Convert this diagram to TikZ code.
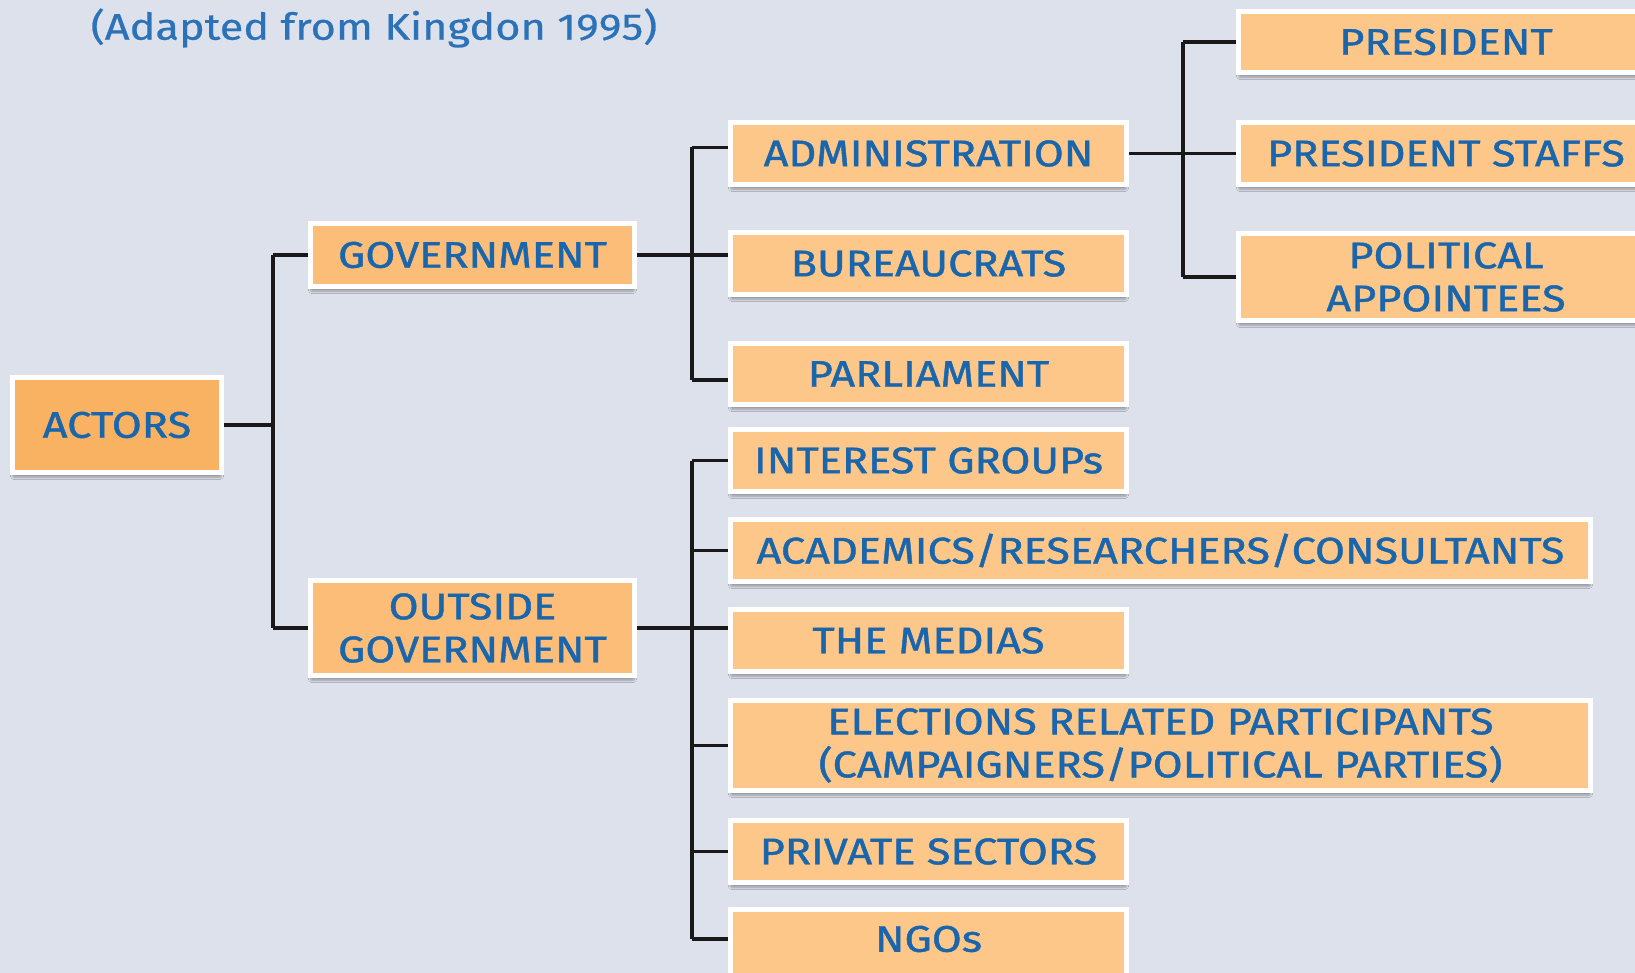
\documentclass[tikz,border=0pt]{standalone}
\usepackage{fontspec}
\setmainfont{Fira Sans}[FakeStretch=1.17, FakeBold=0.6]
\newfontfamily\boxfont{Fira Sans}[FakeBold=1.2, FakeStretch=1.17]
\usetikzlibrary{shadows.blur}
\definecolor{bg}{HTML}{DDE1EB}
\definecolor{txtblue}{HTML}{1A66AD}
\definecolor{titleblue}{HTML}{2C72B8}
\definecolor{fillA}{HTML}{F9B262}
\definecolor{fillB}{HTML}{FBBD78}
\definecolor{fillC}{HTML}{FDC78A}
\tikzset{
  box/.style={draw=white, line width=5pt, fill=fillC, inner sep=0pt, align=center,
    text=txtblue, font=\boxfont\fontsize{37}{43}\selectfont,
    blur shadow={shadow xshift=0pt, shadow yshift=-5pt, shadow blur steps=6, shadow blur extra rounding=2pt, shadow opacity=30}},
  conn/.style={line width=3.5pt, draw=black!90},
}
\begin{document}
\begin{tikzpicture}[x=1pt,y=-1pt]
\useasboundingbox (0,0) rectangle (1635,973);
\clip (0,0) rectangle (1635,973);
\fill[bg] (0,0) rectangle (1635,973);
\node[text=titleblue, font=\fontsize{37}{43}\selectfont, anchor=center] (title) at (374,28) {(Adapted from Kingdon 1995)};
% level 0
\node[box, fill=fillA, minimum width=209, minimum height=95] (actors) at (117,425) {ACTORS};
% level 1
\node[box, fill=fillB, minimum width=324, minimum height=63] (gov) at (472.5,255) {GOVERNMENT};
\node[box, fill=fillB, minimum width=324, minimum height=95] (out) at (472.5,628) {OUTSIDE\\GOVERNMENT};
% level 2
\node[box, minimum width=396, minimum height=62] (adm) at (928.5,153.5) {ADMINISTRATION};
\node[box, minimum width=396, minimum height=62] (bur) at (928.5,263.5) {BUREAUCRATS};
\node[box, minimum width=396, minimum height=61] (par) at (928.5,374) {PARLIAMENT};
\node[box, minimum width=396, minimum height=62] (ig) at (928.5,460.5) {INTEREST GROUPs};
\node[box, minimum width=860, minimum height=62] (acad) at (1160.5,550.5) {ACADEMICS/RESEARCHERS/CONSULTANTS};
\node[box, minimum width=396, minimum height=62] (med) at (928.5,640.5) {THE MEDIAS};
\node[box, minimum width=860, minimum height=90] (elec) at (1160.5,745.5) {ELECTIONS RELATED PARTICIPANTS\\(CAMPAIGNERS/POLITICAL PARTIES)};
\node[box, minimum width=396, minimum height=62] (priv) at (928.5,851.5) {PRIVATE SECTORS};
\node[box, minimum width=396, minimum height=75, text depth=0pt] (ngo) at (928.5,947) {};
\node[txtblue, font=\boxfont\fontsize{37}{43}\selectfont] (ngot) at (928.5,939) {NGOs};
% level 3
\node[box, minimum width=415, minimum height=61] (pres) at (1446,42) {PRESIDENT};
\node[box, minimum width=415, minimum height=62] (staff) at (1446,153.5) {PRESIDENT STAFFS};
\node[box, minimum width=415, minimum height=87] (pol) at (1446,277) {POLITICAL\\APPOINTEES};
% forks and entry points
\coordinate (f1) at (273,0);
\coordinate (f2) at (692,0);
\coordinate (f3) at (1183,0);
\coordinate (admin-in) at ([yshift=6pt]adm.west);
\coordinate (parl-in) at ([yshift=-6pt]par.west);
% connectors level 0 -> 1
\draw[conn] (actors.east) -- (f1 |- actors.east);
\draw[conn] (f1 |- gov.west) -- (f1 |- out.west);
\draw[conn] (f1 |- gov.west) -- (gov.west);
\draw[conn] (f1 |- out.west) -- (out.west);
% government
\draw[conn] (gov.east) -- (bur.west |- gov.east);
\draw[conn] (f2 |- admin-in) -- (f2 |- parl-in);
\draw[conn] (f2 |- admin-in) -- (admin-in);
\draw[conn] (f2 |- parl-in) -- (parl-in);
% outside government
\draw[conn] (out.east) -- (med.west |- out.east);
\draw[conn] (f2 |- ig.west) -- (f2 |- ngot.west);
\draw[conn] (f2 |- ig.west) -- (ig.west);
\draw[conn] (f2 |- acad.west) -- (acad.west);
\draw[conn] (f2 |- elec.west) -- (elec.west);
\draw[conn] (f2 |- priv.west) -- (priv.west);
\draw[conn] (f2 |- ngot.west) -- (ngo.west |- ngot.west);
% administration
\draw[conn] (adm.east) -- (staff.west);
\draw[conn] (f3 |- pres.west) -- (f3 |- pol.west);
\draw[conn] (f3 |- pres.west) -- (pres.west);
\draw[conn] (f3 |- pol.west) -- (pol.west);
\end{tikzpicture}
\end{document}
